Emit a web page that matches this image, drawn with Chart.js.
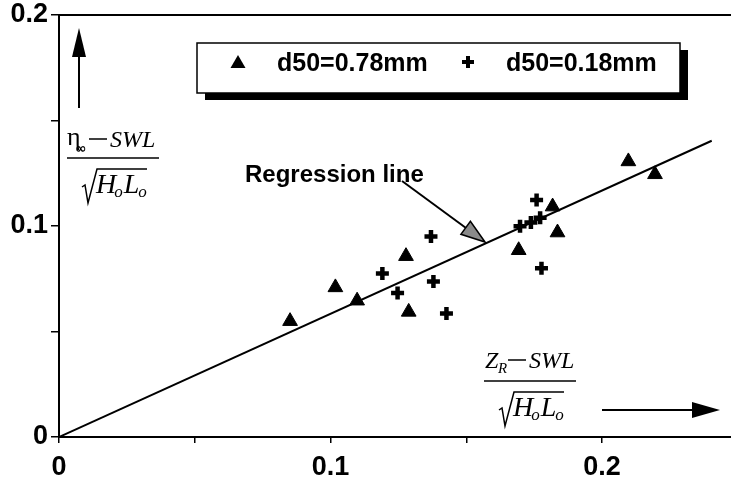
<!DOCTYPE html>
<html>
<head>
<meta charset="utf-8">
<script src="https://cdn.jsdelivr.net/npm/chart.js@4.4.0/dist/chart.umd.min.js"></script>
<style>
  html, body { margin: 0; padding: 0; background: #fff; overflow: hidden; }
</style>
</head>
<body>
<canvas id="c" width="731" height="478"></canvas>
<script>
// d50 = 0.78 mm (triangles)
const coarseX = [0.0851, 0.1018, 0.1098, 0.1278, 0.1288, 0.1693, 0.1818, 0.1836, 0.2097, 0.2195];
const coarseY = [0.0549, 0.0709, 0.0646, 0.0857, 0.0593, 0.0885, 0.1092, 0.0969, 0.1306, 0.1245];
// d50 = 0.18 mm (crosses)
const fineX = [0.1191, 0.1247, 0.1370, 0.1379, 0.1427, 0.1698, 0.1738, 0.1772, 0.1759, 0.1777];
const fineY = [0.0775, 0.0683, 0.0950, 0.0737, 0.0585, 0.0999, 0.1017, 0.1039, 0.1123, 0.0800];
// regression line through the origin
const regX = [0, 0.2404];
const regY = [0, 0.1404];

const xTicks = [0, 0.05, 0.1, 0.15, 0.2];
const yTicks = [0, 0.05, 0.1, 0.15, 0.2];
const labeledTicks = [0, 0.1, 0.2];
const seriesNames = ['d50=0.78mm', 'd50=0.18mm'];

const toPoints = (xs, ys) => xs.map((x, i) => ({ x: x, y: ys[i] }));
const tickLabel = v => {
    const r = Math.round(v * 100) / 100;
    if (!labeledTicks.includes(r)) return '';
    return r === 0 ? '0' : r.toFixed(1);
};

const serif = '"Liberation Serif", "DejaVu Serif", serif';

// denominator sqrt(H_o L_o) under a fraction bar at (bx, by)
function drawDenominator(ctx, bx, by) {
    ctx.lineWidth = 1.5;
    ctx.beginPath();
    ctx.moveTo(bx + 15, by + 29);
    ctx.lineTo(bx + 18, by + 27);
    ctx.lineTo(bx + 21, by + 45);
    ctx.lineTo(bx + 30, by + 11);
    ctx.lineTo(bx + 80, by + 11);
    ctx.stroke();
    let x = bx + 29;
    const base = by + 35;
    ctx.font = 'italic 28px ' + serif;
    ctx.fillText('H', x, base); x += ctx.measureText('H').width - 2;
    ctx.font = 'italic 17px ' + serif;
    ctx.fillText('o', x, base + 4); x += ctx.measureText('o').width + 1;
    ctx.font = 'italic 28px ' + serif;
    ctx.fillText('L', x, base); x += ctx.measureText('L').width - 1;
    ctx.font = 'italic 17px ' + serif;
    ctx.fillText('o', x, base + 4);
}

function drawFractionBar(ctx, bx, by, w) {
    ctx.lineWidth = 1.5;
    ctx.beginPath();
    ctx.moveTo(bx, by);
    ctx.lineTo(bx + w, by);
    ctx.stroke();
}

function drawSWL(ctx, x, base) {
    ctx.lineWidth = 1.5;
    ctx.beginPath();
    ctx.moveTo(x, base - 8);
    ctx.lineTo(x + 18, base - 8);
    ctx.stroke();
    ctx.font = 'italic 24px ' + serif;
    ctx.fillText('SWL', x + 21, base);
}

const annotations = {
    id: 'annotations',
    afterDraw(chart) {
        const ctx = chart.ctx;
        const area = chart.chartArea;
        ctx.save();
        ctx.fillStyle = '#000';
        ctx.strokeStyle = '#000';
        ctx.textBaseline = 'alphabetic';
        ctx.textAlign = 'left';

        // top frame line
        ctx.lineWidth = 2;
        ctx.beginPath();
        ctx.moveTo(area.left, area.top);
        ctx.lineTo(chart.width, area.top);
        ctx.stroke();

        // legend box with shadow
        ctx.fillRect(205, 50, 483, 50);
        ctx.fillStyle = '#fff';
        ctx.fillRect(197, 43, 483, 50);
        ctx.lineWidth = 1.5;
        ctx.strokeRect(197, 43, 483, 50);
        ctx.fillStyle = '#000';
        ctx.beginPath();
        ctx.moveTo(238, 55);
        ctx.lineTo(245.5, 68);
        ctx.lineTo(230.5, 68);
        ctx.closePath();
        ctx.fill();
        ctx.lineWidth = 4;
        ctx.beginPath();
        ctx.moveTo(462, 62); ctx.lineTo(474, 62);
        ctx.moveTo(468, 56); ctx.lineTo(468, 68);
        ctx.stroke();
        ctx.font = 'bold 25px "Liberation Sans", Arial, sans-serif';
        ctx.textBaseline = 'middle';
        ctx.fillText(seriesNames[0], 277, 64);
        ctx.fillText(seriesNames[1], 506, 64);

        // regression label and pointer
        ctx.font = 'bold 24px "Liberation Sans", Arial, sans-serif';
        ctx.fillText('Regression line', 245, 175);
        ctx.textBaseline = 'alphabetic';
        const tip = [485, 242], from = [402, 181];
        const ang = Math.atan2(tip[1] - from[1], tip[0] - from[0]);
        const hl = 24, hw = 8;
        const bxp = tip[0] - hl * Math.cos(ang), byp = tip[1] - hl * Math.sin(ang);
        ctx.lineWidth = 2;
        ctx.beginPath();
        ctx.moveTo(from[0], from[1]);
        ctx.lineTo(bxp, byp);
        ctx.stroke();
        ctx.beginPath();
        ctx.moveTo(tip[0], tip[1]);
        ctx.lineTo(bxp + hw * Math.sin(ang), byp - hw * Math.cos(ang));
        ctx.lineTo(bxp - hw * Math.sin(ang), byp + hw * Math.cos(ang));
        ctx.closePath();
        ctx.fillStyle = '#8a8a8a';
        ctx.fill();
        ctx.lineWidth = 1.5;
        ctx.stroke();
        ctx.fillStyle = '#000';

        // y label: (eta_inf - SWL) / sqrt(H_o L_o) with arrow
        ctx.lineWidth = 2;
        ctx.beginPath();
        ctx.moveTo(79, 108); ctx.lineTo(79, 50);
        ctx.stroke();
        ctx.beginPath();
        ctx.moveTo(79, 28); ctx.lineTo(86, 57); ctx.lineTo(72, 57);
        ctx.closePath();
        ctx.fill();
        ctx.font = '26px ' + serif;
        ctx.fillText('\u03b7', 67, 145);
        ctx.font = 'bold 14px "DejaVu Sans", sans-serif';
        ctx.fillText('\u221e', 75, 153);
        drawSWL(ctx, 89, 147);
        drawFractionBar(ctx, 67, 158, 92);
        drawDenominator(ctx, 67, 158);

        // x label: (Z_R - SWL) / sqrt(H_o L_o) with arrow
        ctx.font = 'italic 24px ' + serif;
        ctx.fillText('Z', 485, 368);
        ctx.font = 'italic 15px ' + serif;
        ctx.fillText('R', 498, 373);
        drawSWL(ctx, 508, 368);
        drawFractionBar(ctx, 484, 381, 92);
        drawDenominator(ctx, 484, 381);
        ctx.lineWidth = 2;
        ctx.beginPath();
        ctx.moveTo(602, 410); ctx.lineTo(695, 410);
        ctx.stroke();
        ctx.beginPath();
        ctx.moveTo(720, 410); ctx.lineTo(692, 402); ctx.lineTo(692, 418);
        ctx.closePath();
        ctx.fill();

        ctx.restore();
    }
};

const tickFont = { family: '"Liberation Sans", Arial, sans-serif', size: 27, weight: 'bold' };

new Chart(document.getElementById('c'), {
    type: 'scatter',
    data: {
        datasets: [
            {
                label: seriesNames[0],
                data: toPoints(coarseX, coarseY),
                pointStyle: 'triangle',
                radius: 8.5,
                backgroundColor: '#000',
                borderColor: '#000',
                borderWidth: 1
            },
            {
                label: seriesNames[1],
                data: toPoints(fineX, fineY),
                pointStyle: 'cross',
                radius: 6.5,
                backgroundColor: '#000',
                borderColor: '#000',
                borderWidth: 4.5
            },
            {
                type: 'line',
                label: 'Regression line',
                data: toPoints(regX, regY),
                borderColor: '#000',
                borderWidth: 2,
                pointRadius: 0,
                fill: false
            }
        ]
    },
    options: {
        responsive: false,
        animation: false,
        layout: { autoPadding: false, padding: { top: 15, right: 0, left: 0, bottom: 0 } },
        plugins: { legend: { display: false }, tooltip: { enabled: false } },
        scales: {
            x: {
                type: 'linear',
                min: 0,
                max: 0.2475,
                afterBuildTicks: s => { s.ticks = xTicks.map(v => ({ value: v })); },
                afterFit: s => { s.height = 41; s.paddingLeft = 0; s.paddingRight = 0; },
                border: { color: '#000', width: 2 },
                grid: { drawOnChartArea: false, color: '#000', tickLength: 6, lineWidth: 1.5 },
                ticks: { callback: tickLabel, font: tickFont, color: '#000', padding: 8, maxRotation: 0, autoSkip: false }
            },
            y: {
                type: 'linear',
                min: 0,
                max: 0.2,
                afterBuildTicks: s => { s.ticks = yTicks.map(v => ({ value: v })); },
                afterFit: s => { s.width = 59; s.paddingTop = 0; s.paddingBottom = 0; },
                border: { color: '#000', width: 2 },
                grid: { drawOnChartArea: false, color: '#000', tickLength: 8, lineWidth: 1.5 },
                ticks: { callback: tickLabel, font: tickFont, color: '#000', padding: 3, autoSkip: false }
            }
        }
    },
    plugins: [annotations]
});
</script>
</body>
</html>
